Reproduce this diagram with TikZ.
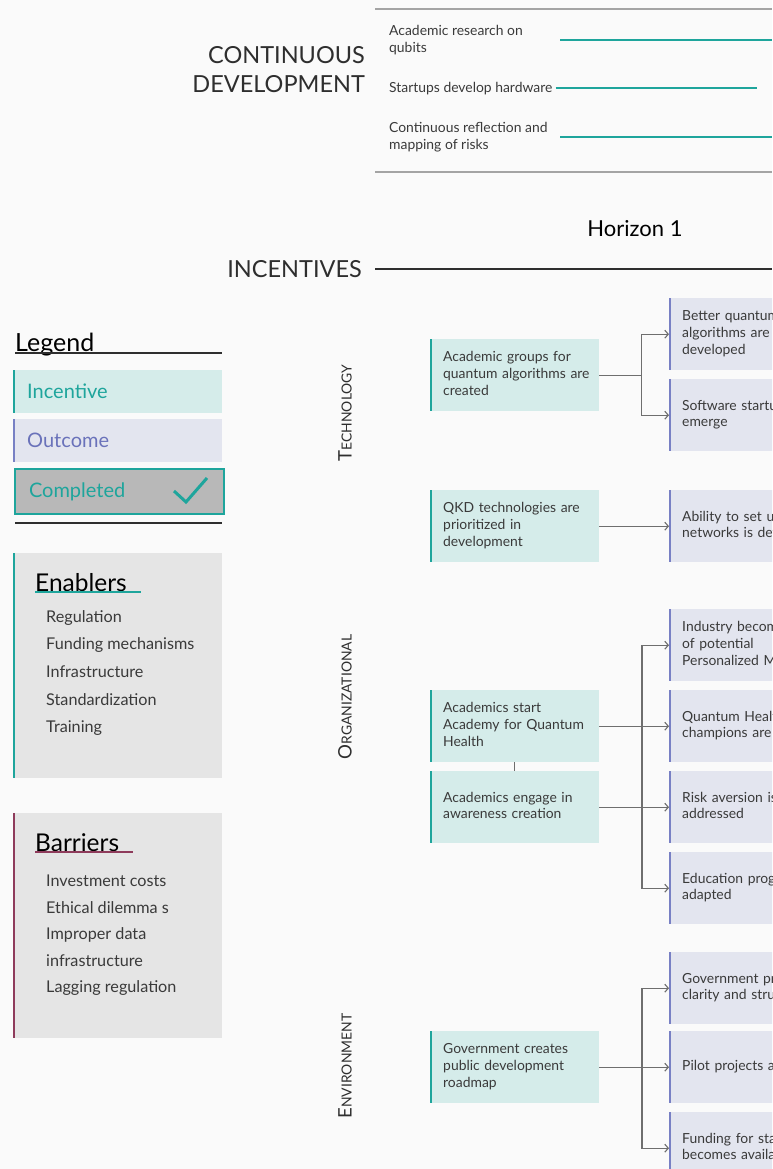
\documentclass[tikz,border=0pt]{standalone}
\usepackage{fontspec}
\setmainfont{Lato}
\usetikzlibrary{arrows.meta,calc}

\definecolor{bg}{HTML}{FAFAFA}
\definecolor{incfill}{HTML}{D5ECEA}
\definecolor{incedge}{HTML}{1EA59C}
\definecolor{outfill}{HTML}{E3E5EF}
\definecolor{outedge}{HTML}{7880C4}
\definecolor{outtext}{HTML}{6A72BA}
\definecolor{txt}{HTML}{3A3A3A}
\definecolor{conn}{HTML}{6E6E6E}
\definecolor{panel}{HTML}{E5E5E5}
\definecolor{barrier}{HTML}{8E3B5B}
\definecolor{rulegray}{HTML}{A4A4A4}
\definecolor{donefill}{HTML}{B8B8B8}
\definecolor{dark}{HTML}{2E2E2E}

\newcommand\boxfont{\fontsize{13.9}{16.6}\selectfont}
\newcommand\capsfont{\fontsize{23.5}{29}\selectfont}
\newcommand\smallcap[2]{{\fontsize{18.6}{18}\selectfont #1}{\fontsize{13.9}{13}\selectfont #2}}
% box text: fixed lines, never re-wrapped
\newcommand\ml[1]{\begin{tabular}{@{}l@{}}#1\end{tabular}}
\hfuzz=200pt

\tikzset{
  basebox/.style={anchor=north west, minimum height=72pt, text width=143pt,
    inner xsep=13pt, inner ysep=0pt, font=\boxfont, text=txt},
  incbox/.style={basebox, fill=incfill,
    path picture={\draw[incedge,line width=4pt] (path picture bounding box.north west) -- (path picture bounding box.south west);}},
  outbox/.style={basebox, fill=outfill,
    path picture={\draw[outedge,line width=4pt] (path picture bounding box.north west) -- (path picture bounding box.south west);}},
  link/.style={draw=conn, line width=1.1pt, -{Straight Barb[length=3.5pt,width=8pt]}},
  plainlink/.style={draw=conn, line width=1.1pt},
  trackline/.style={draw=incedge, line width=1.4pt},
  toptext/.style={anchor=west, align=left, font=\boxfont, text=txt, inner sep=3pt},
  sidelabel/.style={rotate=90, text=dark, inner sep=0pt},
  listitem/.style={anchor=west, font=\fontsize{16.2}{18}\selectfont, text=txt, inner sep=0pt},
  legbox/.style={anchor=north west, minimum width=209pt, minimum height=43pt,
    inner xsep=14pt, text width=181pt, align=left, font=\fontsize{20}{22}\selectfont},
  heading/.style={anchor=base west, text=black, inner sep=0pt},
}

\begin{document}
\begin{tikzpicture}[x=1pt,y=-1pt]
\useasboundingbox (0,0) rectangle (772,1169);
\fill[bg] (0,0) rectangle (772,1169);
\clip (0,0) rectangle (772,1169);

% ---------- continuous development band ----------
\draw[rulegray, line width=2pt] (375,9) -- (772,9);
\draw[rulegray, line width=2pt] (375,172) -- (772,172);
\node[anchor=east, align=right, font=\capsfont, text=dark, inner sep=0pt] (cd) at (365,70)
  {CONTINUOUS\\DEVELOPMENT};
\node[toptext] (d1) at (386,40) {Academic research on\\qubits};
\node[toptext] (d2) at (386,89) {Startups develop hardware};
\node[toptext] (d3) at (386,137) {Continuous reflection and\\mapping of risks};
\coordinate (d1a) at (560,40);  \coordinate (d1b) at (772,40);
\coordinate (d2b) at (757,88);
\coordinate (d3a) at (560,137); \coordinate (d3b) at (772,137);
\draw[trackline] (d1a) -- (d1b);
\draw[trackline] (d2.east |- d2b) -- (d2b);
\draw[trackline] (d3a) -- (d3b);

% ---------- header ----------
\node[font=\fontsize{22}{24}\selectfont, text=black, inner sep=0pt] (hz) at (635,229) {Horizon 1};
\node[anchor=east, font=\capsfont, text=dark, inner sep=0pt] (inc) at (362,269) {INCENTIVES};
\coordinate (incend) at (772,269);
\draw[dark, line width=1.5pt] ([xshift=13pt]inc.east) -- (incend);

% ---------- legend ----------
\node[heading, font=\fontsize{25}{27}\selectfont] (lg) at (15,351) {Legend};
\coordinate (lgend) at (222,353);
\draw[dark, line width=1.5pt] (lg.south west |- lgend) -- (lgend);
\node[legbox, fill=incfill, text=incedge,
  path picture={\draw[incedge,line width=4pt] (path picture bounding box.north west) -- (path picture bounding box.south west);}]
  (lgi) at (13,370) {Incentive};
\node[legbox, fill=outfill, text=outtext,
  path picture={\draw[outedge,line width=4pt] (path picture bounding box.north west) -- (path picture bounding box.south west);}]
  (lgo) at (13,419) {Outcome};
\node[legbox, fill=donefill, text=incedge, draw=incedge, line width=2pt, minimum height=45pt]
  (lgc) at (14,468) {Completed};
\draw[incedge, line width=3pt] (174,491) -- (186,502) -- (207,478);
\coordinate (lgr1) at (15,523); \coordinate (lgr2) at (222,523);
\draw[dark, line width=2pt] (lgr1) -- (lgr2);

% ---------- enablers ----------
\fill[panel] (13,553) rectangle (222,778);
\draw[incedge, line width=2pt] (14,553) -- (14,778);
\node[heading, font=\fontsize{24.5}{26}\selectfont] (en) at (35,591) {Enablers};
\draw[incedge, line width=1.5pt] (35,592) -- (141,592);
\node[listitem] (en1) at (46,618) {Regulation};
\node[listitem] (en2) at (46,645) {Funding mechanisms};
\node[listitem] (en3) at (46,672) {Infrastructure};
\node[listitem] (en4) at (46,700) {Standardization};
\node[listitem] (en5) at (46,728) {Training};

% ---------- barriers ----------
\fill[panel] (13,813) rectangle (222,1038);
\draw[barrier, line width=2pt] (14,813) -- (14,1038);
\node[heading, font=\fontsize{24.5}{26}\selectfont] (br) at (35,851) {Barriers};
\draw[barrier, line width=1.5pt] (35,852) -- (133,852);
\node[listitem] (br1) at (46,881) {Investment costs};
\node[listitem] (br2) at (46,908) {Ethical dilemma s};
\node[listitem] (br3) at (46,935) {Improper data};
\node[listitem] (br4) at (46,961) {infrastructure};
\node[listitem] (br5) at (46,988) {Lagging regulation};

% ---------- row labels ----------
\node[sidelabel] (lt) at (345,413) {\smallcap{T}{ECHNOLOGY}};
\node[sidelabel] (lo) at (345,697) {\smallcap{O}{RGANIZATIONAL}};
\node[sidelabel] (le) at (345,1066) {\smallcap{E}{NVIRONMENT}};

% ---------- technology ----------
\node[incbox] (t1) at (430,339) {\ml{Academic groups for\\quantum algorithms are\\created}};
\node[incbox] (t2) at (430,490) {\ml{QKD technologies are\\prioritized in\\development}};
\node[outbox] (o1) at (669,298) {\ml{Better quantum\\algorithms are\\developed}};
\node[outbox] (o2) at (669,379) {\ml{Software startups\\emerge}};
\node[outbox] (o3) at (669,490) {\ml{Ability to set up\\networks is developed}};
\draw[link] (t1.east) -- ++(42,0) |- (o1.west);
\draw[link] (t1.east) -- ++(42,0) |- (o2.west);
\draw[link] (t2.east) -- (o3.west);

% ---------- organizational ----------
\node[incbox] (a1) at (430,690) {\ml{Academics start\\Academy for Quantum\\Health}};
\node[incbox] (a2) at (430,771) {\ml{Academics engage in\\awareness creation}};
\node[outbox] (o4) at (669,609) {\ml{Industry becomes aware\\of potential\\Personalized Medicine}};
\node[outbox] (o5) at (669,690) {\ml{Quantum Health\\champions are identified}};
\node[outbox] (o6) at (669,771) {\ml{Risk aversion is\\addressed}};
\node[outbox] (o7) at (669,852) {\ml{Education programs are\\adapted}};
\draw[plainlink] (a1.south) -- (a2.north);
\draw[link] (a1.east) -- (o5.west);
\draw[link] (a2.east) -- (o6.west);
\draw[link, {Straight Barb[length=3.5pt,width=8pt]}-{Straight Barb[length=3.5pt,width=8pt]}]
  (o4.west) -- ([xshift=-27pt]o4.west) -- ([xshift=-27pt]o7.west) -- (o7.west);

% ---------- environment ----------
\node[incbox] (e1) at (430,1031) {\ml{Government creates\\public development\\roadmap}};
\node[outbox] (o8) at (669,952) {\ml{Government provides\\clarity and structure}};
\node[outbox] (o9) at (669,1031) {\ml{Pilot projects are started}};
\node[outbox] (o10) at (669,1112) {\ml{Funding for startups\\becomes available}};
\draw[link] (e1.east) -- (o9.west);
\draw[link, {Straight Barb[length=3.5pt,width=8pt]}-{Straight Barb[length=3.5pt,width=8pt]}]
  (o8.west) -- ([xshift=-27pt]o8.west) -- ([xshift=-27pt]o10.west) -- (o10.west);
\end{tikzpicture}
\end{document}
